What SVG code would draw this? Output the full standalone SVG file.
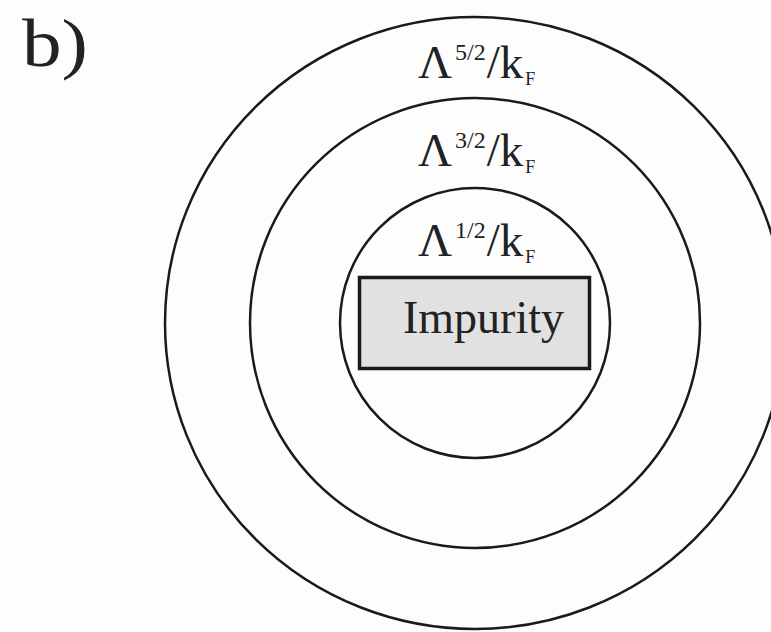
<svg xmlns="http://www.w3.org/2000/svg" width="771" height="632" viewBox="0 0 771 632">
<style>
.ring{fill:none;stroke:#1a1a1a;stroke-width:2.5}
.t{font-family:"Liberation Serif","Times New Roman",serif;fill:#222}
.lab{font-size:47px}
.sup{font-size:24px}
.sub{font-size:18px}
</style>
<rect width="771" height="632" fill="#fdfdfd"/>
<text class="t" x="22" y="66" font-size="68" textLength="66" lengthAdjust="spacingAndGlyphs">b)</text>
<g id="outer">
<ellipse class="ring" cx="475" cy="323" rx="310" ry="306"/>
<text class="t lab" x="418" y="78">Λ<tspan class="sup" dx="3" dy="-18">5/2</tspan><tspan dx="1" dy="18">/k</tspan><tspan class="sub" dx="2" dy="7">F</tspan></text>
</g>
<g id="middle">
<ellipse class="ring" cx="475" cy="323" rx="225" ry="225"/>
<text class="t lab" x="418" y="166">Λ<tspan class="sup" dx="3" dy="-18">3/2</tspan><tspan dx="1" dy="18">/k</tspan><tspan class="sub" dx="2" dy="7">F</tspan></text>
</g>
<g id="inner">
<ellipse class="ring" cx="475" cy="323" rx="135" ry="135"/>
<text class="t lab" x="418" y="256">Λ<tspan class="sup" dx="3" dy="-18">1/2</tspan><tspan dx="1" dy="18">/k</tspan><tspan class="sub" dx="2" dy="7">F</tspan></text>
</g>
<g id="impurity">
<rect x="359.5" y="277.5" width="230" height="91" fill="#e1e1e1" stroke="#1a1a1a" stroke-width="3.5"/>
<text class="t" x="403" y="333" font-size="46">Impurity</text>
</g>
</svg>
